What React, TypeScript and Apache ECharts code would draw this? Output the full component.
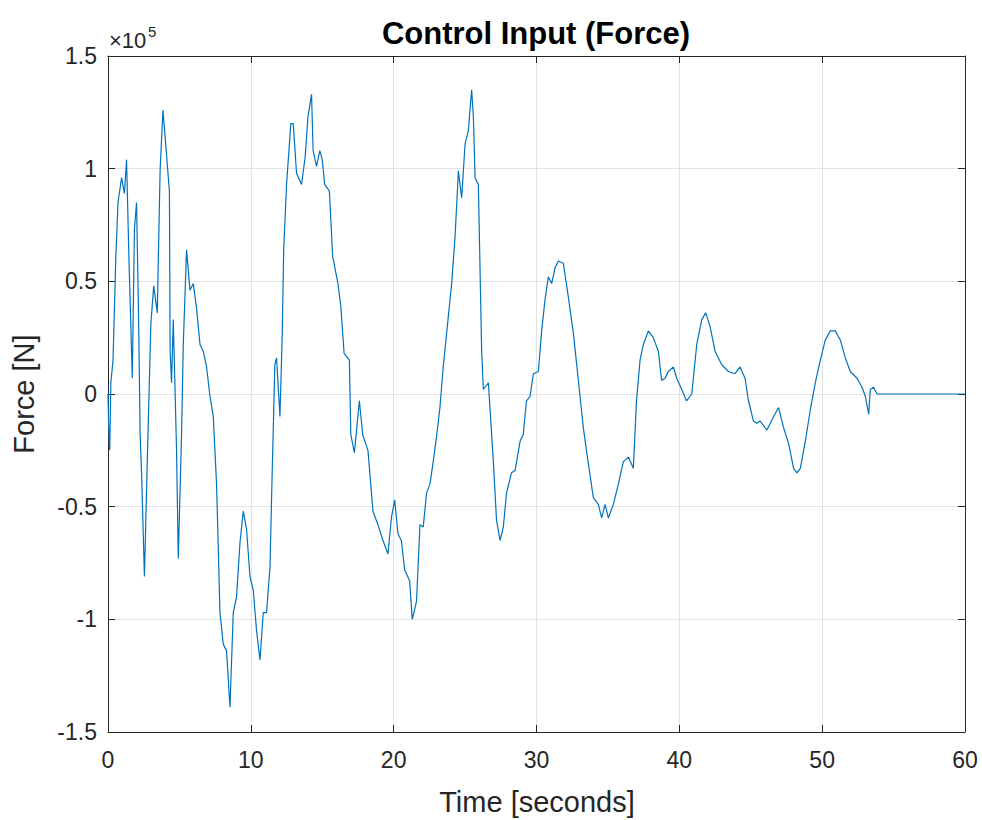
import React, { useEffect, useRef } from "react";
import * as echarts from "echarts";

// time in seconds
const timeS: number[] = [
  0, 0.05, 0.12, 0.2, 0.35, 0.55, 0.7, 0.95, 1.15, 1.3, 1.45, 1.7, 1.85, 2.0, 2.15, 2.25, 2.35, 2.55, 2.75, 2.95,
  3.0, 3.2, 3.45, 3.65, 3.85, 4.05, 4.3, 4.35, 4.45, 4.57, 4.8, 4.92, 5.15, 5.27, 5.5, 5.74, 5.97, 6.2, 6.44, 6.67,
  6.9, 7.14, 7.37, 7.6, 7.84, 8.07, 8.3, 8.54, 8.77, 9.0, 9.24, 9.47, 9.7, 9.94, 10.17, 10.4, 10.64, 10.87, 11.1, 11.34,
  11.45, 11.68, 11.8, 12.04, 12.2, 12.3, 12.5, 12.8, 12.97, 13.2, 13.55, 13.8, 14.0, 14.25, 14.36, 14.6, 14.83, 15.0, 15.17, 15.5,
  15.73, 16.1, 16.3, 16.53, 16.9, 17.0, 17.25, 17.6, 17.83, 18.2, 18.55, 18.9, 19.25, 19.6, 19.84, 20.07, 20.3, 20.54, 20.77, 21.12,
  21.3, 21.6, 21.84, 22.07, 22.3, 22.54, 22.77, 23.0, 23.24, 23.47, 23.82, 24.06, 24.3, 24.53, 24.76, 25.0, 25.23, 25.46, 25.58, 25.7,
  25.93, 26.16, 26.28, 26.63, 26.98, 27.2, 27.45, 27.68, 27.9, 28.25, 28.5, 28.85, 29.07, 29.3, 29.55, 29.78, 30.13, 30.36, 30.6, 30.83,
  31.06, 31.3, 31.53, 31.88, 32.23, 32.58, 32.93, 33.28, 33.63, 33.98, 34.33, 34.56, 34.8, 35.03, 35.38, 35.73, 36.08, 36.43, 36.78, 37.0,
  37.25, 37.48, 37.83, 38.18, 38.53, 38.76, 39.0, 39.23, 39.58, 39.82, 40.17, 40.5, 40.87, 41.22, 41.57, 41.85, 42.15, 42.5, 42.97, 43.44,
  43.9, 44.25, 44.6, 44.84, 45.19, 45.42, 45.66, 46.13, 46.6, 46.95, 47.3, 47.65, 48.0, 48.23, 48.47, 48.82, 49.17, 49.52, 49.87, 50.22,
  50.57, 50.92, 51.27, 51.62, 51.97, 52.44, 52.79, 53.02, 53.26, 53.37, 53.6, 53.84, 60,
];

// force in units of 1e5 N
const forceE5: number[] = [
  0, -0.15, -0.25, 0.05, 0.15, 0.61, 0.85, 0.96, 0.89, 1.04, 0.64, 0.07, 0.73, 0.85, 0.3, -0.18, -0.35, -0.81, -0.3, 0.19,
  0.31, 0.48, 0.36, 1.0, 1.26, 1.1, 0.9, 0.19, 0.05, 0.33, -0.25, -0.73, -0.18, 0.22, 0.64, 0.46, 0.49, 0.38, 0.22, 0.19,
  0.12, -0.01, -0.1, -0.4, -0.97, -1.11, -1.14, -1.39, -0.97, -0.9, -0.66, -0.52, -0.6, -0.81, -0.87, -1.05, -1.18, -0.97, -0.97, -0.77,
  -0.47, 0.13, 0.16, -0.1, 0.27, 0.64, 0.93, 1.2, 1.2, 0.98, 0.93, 1.05, 1.23, 1.33, 1.08, 1.01, 1.08, 1.04, 0.93, 0.9,
  0.61, 0.49, 0.39, 0.18, 0.15, -0.18, -0.26, -0.03, -0.18, -0.25, -0.52, -0.58, -0.65, -0.71, -0.55, -0.47, -0.62, -0.65, -0.78, -0.83,
  -1.0, -0.92, -0.58, -0.59, -0.44, -0.4, -0.3, -0.19, -0.06, 0.12, 0.34, 0.49, 0.7, 0.99, 0.87, 1.11, 1.17, 1.35, 1.23, 0.96,
  0.93, 0.19, 0.02, 0.05, -0.3, -0.56, -0.65, -0.59, -0.44, -0.35, -0.34, -0.21, -0.18, -0.03, -0.01, 0.09, 0.1, 0.28, 0.42, 0.52,
  0.49, 0.56, 0.59, 0.58, 0.43, 0.27, 0.06, -0.15, -0.31, -0.46, -0.49, -0.55, -0.49, -0.55, -0.49, -0.4, -0.3, -0.28, -0.33, -0.03,
  0.15, 0.22, 0.28, 0.25, 0.19, 0.06, 0.07, 0.1, 0.12, 0.07, 0.02, -0.03, 0.0, 0.22, 0.33, 0.36, 0.3, 0.19, 0.13, 0.1,
  0.09, 0.12, 0.07, -0.03, -0.12, -0.13, -0.12, -0.16, -0.1, -0.06, -0.15, -0.22, -0.33, -0.35, -0.33, -0.21, -0.07, 0.05, 0.15, 0.24,
  0.28, 0.28, 0.24, 0.16, 0.1, 0.07, 0.03, -0.01, -0.09, 0.02, 0.03, 0.0, 0,
];

const xTicks: number[] = [0, 10, 20, 30, 40, 50, 60];
const yTickLabels: string[] = ["-1.5", "-1", "-0.5", "0", "0.5", "1", "1.5"];

const titleText = "Control Input (Force)";
const xLabel = "Time [seconds]";
const yLabel = "Force [N]";

export default function App() {
  const ref = useRef<HTMLDivElement>(null);
  useEffect(() => {
    if (!ref.current) return;
    const chart = echarts.init(ref.current, undefined, { renderer: "svg" });
    const font = "'Liberation Sans', Arial, Helvetica, sans-serif";
    const axisColor = "#262626";
    const gridColor = "#e3e3e3";
    const data = timeS.map((t, i) => [t, forceE5[i]]);
    const baseX = {
      type: "value" as const,
      min: xTicks[0],
      max: xTicks[xTicks.length - 1],
      interval: 10,
      axisLine: { show: true, onZero: false, lineStyle: { color: axisColor, width: 1 } },
      axisTick: { show: true, inside: true, length: 7, lineStyle: { color: axisColor } },
    };
    const baseY = {
      type: "value" as const,
      min: -1.5,
      max: 1.5,
      interval: 0.5,
      axisLine: { show: true, onZero: false, lineStyle: { color: axisColor, width: 1 } },
      axisTick: { show: true, inside: true, length: 7, lineStyle: { color: axisColor } },
    };
    chart.setOption({
      animation: false,
      backgroundColor: "#ffffff",
      grid: { left: 108, right: 17, top: 56, bottom: 88, containLabel: false },
      xAxis: [
        {
          ...baseX,
          position: "bottom",
          axisLabel: { color: axisColor, fontSize: 23, fontFamily: font, margin: 16 },
          splitLine: { show: true, lineStyle: { color: gridColor, width: 1 } },
        },
        {
          ...baseX,
          position: "top",
          axisLabel: { show: false },
          splitLine: { show: false },
        },
      ],
      yAxis: [
        {
          ...baseY,
          position: "left",
          axisLabel: {
            color: axisColor,
            fontSize: 23,
            fontFamily: font,
            margin: 11,
            formatter: (v: number) => {
              const idx = Math.round((v + 1.5) / 0.5);
              return yTickLabels[idx] ?? String(v);
            },
          },
          splitLine: { show: true, lineStyle: { color: gridColor, width: 1 } },
        },
        {
          ...baseY,
          position: "right",
          axisLabel: { show: false },
          splitLine: { show: false },
        },
      ],
      series: [
        {
          type: "line",
          data,
          xAxisIndex: 0,
          yAxisIndex: 0,
          showSymbol: false,
          symbol: "none",
          lineStyle: { color: "#0072BD", width: 1.2 },
          z: 3,
        },
      ],
      graphic: [
        {
          type: "text",
          style: {
            text: titleText,
            x: 536,
            y: 33,
            fill: "#000000",
            font: `bold 31px ${font}`,
            align: "center",
            verticalAlign: "middle",
          },
        },
        {
          type: "text",
          style: {
            text: xLabel,
            x: 537,
            y: 802,
            fill: axisColor,
            font: `29px ${font}`,
            align: "center",
            verticalAlign: "middle",
          },
        },
        {
          type: "text",
          x: 24,
          y: 394,
          rotation: Math.PI / 2,
          style: {
            text: yLabel,
            x: 0,
            y: 0,
            fill: axisColor,
            font: `29px ${font}`,
            align: "center",
            verticalAlign: "middle",
          },
        },
        {
          type: "text",
          style: {
            text: "×10",
            x: 109,
            y: 40,
            fill: axisColor,
            font: `22px ${font}`,
            align: "left",
            verticalAlign: "middle",
          },
        },
        {
          type: "text",
          style: {
            text: "5",
            x: 148,
            y: 31,
            fill: axisColor,
            font: `15px ${font}`,
            align: "left",
            verticalAlign: "middle",
          },
        },
      ],
    });
    return () => chart.dispose();
  }, []);
  return (
    <div
      ref={ref}
      style={{ position: "absolute", left: 0, top: 0, width: 982, height: 820, background: "#fff" }}
    />
  );
}
